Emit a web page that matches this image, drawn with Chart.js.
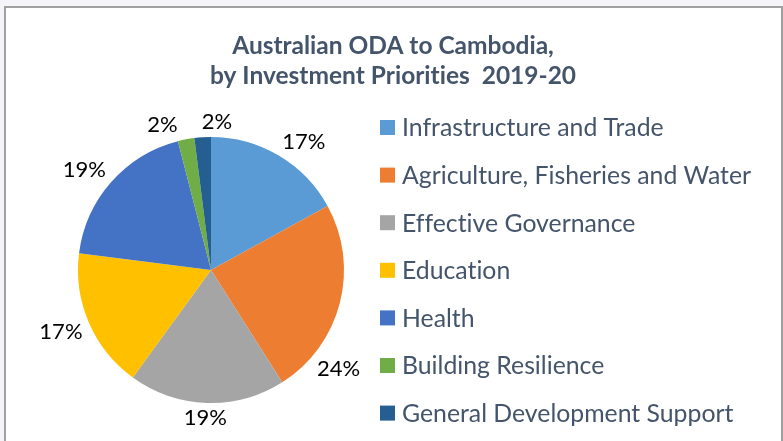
<!DOCTYPE html>
<html>
<head>
<meta charset="utf-8">
<title>Australian ODA to Cambodia</title>
<script src="https://cdn.jsdelivr.net/npm/chart.js@4"></script>
<style>
  html, body { margin: 0; padding: 0; background: #f5f5f9; }
  #frame {
    position: absolute; left: 4px; top: 6px; width: 779px; height: 460px;
    background: #fff; border: 2px solid #a0a0a0; box-sizing: border-box;
  }
  #wrap { position: absolute; left: 0; top: 0; width: 783px; height: 441px; }
</style>
</head>
<body>
<div id="frame"></div>
<div id="wrap"><canvas id="pieChart"></canvas></div>
<script>
// Chart data
const titleLines = ["Australian ODA to Cambodia,", "by Investment Priorities  2019-20"];
const categories = [
  "Infrastructure and Trade",
  "Agriculture, Fisheries and Water",
  "Effective Governance",
  "Education",
  "Health",
  "Building Resilience",
  "General Development Support",
];
const shares = [17, 24, 19, 17, 19, 2, 2]; // percent of total
const sliceColors = ["#5B9BD5", "#ED7D31", "#A5A5A5", "#FFC000", "#4472C4", "#70AD47", "#255E91"];

const textColor = "#44546A";
const fontFamily = "Lato, 'Open Sans', sans-serif";

const clamp = (v, lo, hi) => Math.max(lo, Math.min(hi, v));

// Draws the title, the legend on the right and the % labels round the pie
const pieDecor = {
  id: "pieDecor",
  afterDraw(chart) {
    const { ctx } = chart;
    ctx.save();
    ctx.textRendering = "optimizeSpeed"; // no "ti" ligatures

    // title
    ctx.fillStyle = textColor;
    ctx.font = "bold 24.5px " + fontFamily;
    ctx.textAlign = "center";
    ctx.textBaseline = "middle";
    titleLines.forEach((line, i) => ctx.fillText(line, 393, 46 + i * 30));

    // legend
    ctx.font = "24.8px " + fontFamily;
    ctx.textAlign = "left";
    categories.forEach((name, i) => {
      const y = 127.5 + i * 47.6;
      ctx.fillStyle = sliceColors[i];
      ctx.fillRect(380, y - 7.5, 15, 15);
      ctx.fillStyle = textColor;
      ctx.fillText(name, 402, y + 1);
    });

    // percentage labels, outside each slice
    const meta = chart.getDatasetMeta(0);
    const total = shares.reduce((a, b) => a + b, 0);
    ctx.font = "22px " + fontFamily;
    ctx.fillStyle = "#000";
    ctx.textAlign = "center";
    const plotRight = 361;
    const h = 16;
    const boxes = meta.data.map((arc, i) => {
      const text = Math.round((shares[i] / total) * 100) + "%";
      const w = ctx.measureText(text).width;
      const R = arc.outerRadius + 7;
      const place = (a) => {
        const ux = Math.cos(a), uy = Math.sin(a);
        return {
          x: arc.x + R * ux + (w / 2) * clamp(2 * ux, -1, 1),
          y: arc.y + R * uy + (h / 2) * clamp(2 * uy, -1, 1),
        };
      };
      let a = (arc.startAngle + arc.endAngle) / 2;
      let p = place(a);
      // slide along the rim if the label would run into the legend
      for (let k = 0; k < 180 && p.x + w / 2 > plotRight; k++) {
        a += Math.sin(a) >= 0 ? 0.01 : -0.01;
        p = place(a);
      }
      return { text, w, x: p.x, y: p.y };
    });
    // push overlapping labels apart sideways
    for (let pass = 0; pass < 5; pass++) {
      for (let i = 0; i < boxes.length; i++) {
        for (let j = i + 1; j < boxes.length; j++) {
          const A = boxes[i], B = boxes[j];
          const need = (A.w + B.w) / 2 + 24;
          if (Math.abs(A.y - B.y) < h && Math.abs(A.x - B.x) < need) {
            const shift = (need - Math.abs(A.x - B.x)) / 2;
            const dir = A.x <= B.x ? -1 : 1;
            A.x += dir * shift;
            B.x -= dir * shift;
          }
        }
      }
    }
    boxes.forEach((b) => ctx.fillText(b.text, b.x, b.y));
    ctx.restore();
  },
};

new Chart(document.getElementById("pieChart"), {
  type: "pie",
  data: {
    labels: categories,
    datasets: [
      {
        data: shares,
        backgroundColor: sliceColors,
        borderWidth: 0,
        hoverOffset: 0,
      },
    ],
  },
  options: {
    responsive: true,
    maintainAspectRatio: false,
    animation: false,
    layout: { padding: { left: 78, right: 439, top: 137, bottom: 38 } },
    plugins: {
      legend: { display: false },
      title: { display: false },
      tooltip: { enabled: false },
    },
  },
  plugins: [pieDecor],
});
</script>
</body>
</html>
